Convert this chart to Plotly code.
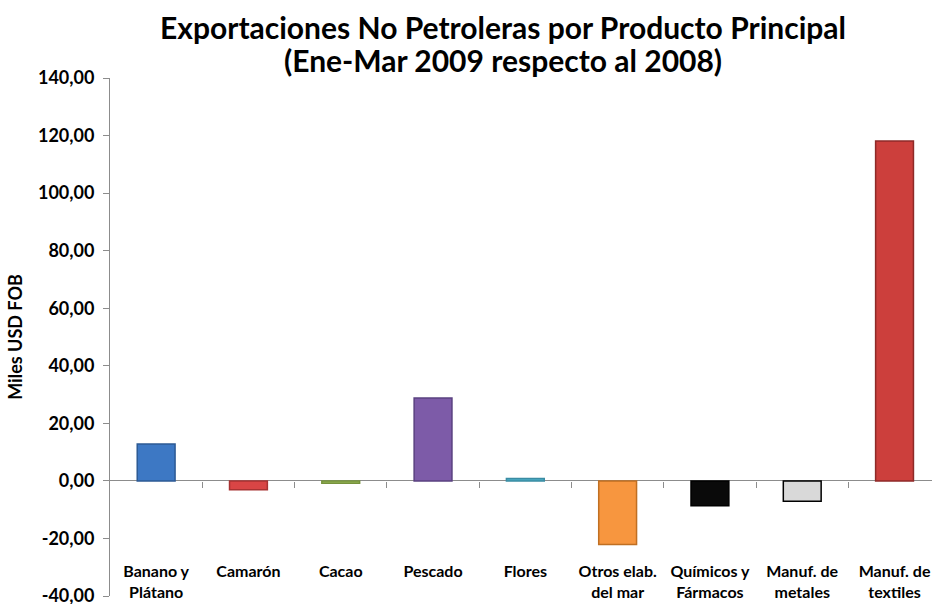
import plotly.graph_objects as go

# Exportaciones no petroleras, variación Ene-Mar 2009 vs 2008 (miles USD FOB)
categorias = ["Banano y<br>Plátano", "Camarón", "Cacao", "Pescado", "Flores",
              "Otros elab.<br>del mar", "Químicos y<br>Fármacos",
              "Manuf. de<br>metales", "Manuf. de<br>textiles"]
valores = [12.8, -3.1, -0.8, 28.8, 0.8, -22.1, -8.6, -7.1, 118.1]
colores = ["#3D78C4", "#D94545", "#9BBB59", "#7D5BA8", "#4BACC6",
           "#F7963F", "#0A0A0A", "#D9D9D9", "#CC3F3C"]
bordes = ["#2C5A94", "#A83232", "#76923C", "#5A4180", "#3A8CA3",
          "#C06F22", "#000000", "#000000", "#8E2A28"]
y_ticks = [-40, -20, 0, 20, 40, 60, 80, 100, 120, 140]
y_ticktext = [f"{v:,.2f}".replace(".", ",") for v in y_ticks]
titulo = ["Exportaciones No Petroleras por Producto Principal",
          "(Ene-Mar 2009 respecto al 2008)"]

FONT = "Lato"
x_range = [-0.5, 8.406]
y_range = [-40, 140]
M_TOP, M_BOT, H = 78, 8, 604
plot_h = H - M_TOP - M_BOT


def paper_y(px):
    """Pixel row from the top of the page -> paper fraction of the plot area."""
    return (H - M_BOT - px) / plot_h


fig = go.Figure()
fig.add_trace(go.Bar(
    x=list(range(len(categorias))),
    y=valores,
    width=0.41,
    marker=dict(color=colores, line=dict(color=bordes, width=1.5)),
    showlegend=False,
    hoverinfo="y",
))

# category boundary ticks drawn on an axis sitting at y = 0
fig.add_trace(go.Scatter(x=[0], y=[0], xaxis="x2", mode="markers",
                         marker=dict(opacity=0), showlegend=False,
                         hoverinfo="skip"))

# two-line chart title
for linea, py in zip(titulo, [27, 60]):
    fig.add_annotation(
        text=f"<b>{linea}</b>", xref="paper", yref="paper",
        x=(503 - 110) / (932 - 110), y=paper_y(py),
        xanchor="center", yanchor="middle", showarrow=False,
        font=dict(family=FONT, size=30, color="#000000"),
    )

fig.update_layout(
    width=932, height=H,
    margin=dict(l=110, r=0, t=M_TOP, b=M_BOT, autoexpand=False),
    paper_bgcolor="white", plot_bgcolor="white",
    font=dict(family=FONT, color="#000000"),
    xaxis=dict(
        range=x_range,
        tickmode="array",
        tickvals=list(range(len(categorias))),
        ticktext=[f"<b>{c}</b>" for c in categorias],
        tickfont=dict(family=FONT, size=16, color="#000000"),
        showline=False, showgrid=False, zeroline=False, ticks="",
        anchor="free", position=0.069, automargin=False,
    ),
    xaxis2=dict(
        overlaying="x", range=x_range, anchor="free",
        position=(0 - y_range[0]) / (y_range[1] - y_range[0]),
        tickmode="array",
        tickvals=[i + 0.5 for i in range(len(categorias) - 1)],
        ticks="outside", ticklen=6, tickcolor="#8C8C8C", tickwidth=1,
        showticklabels=False, showline=False, showgrid=False, zeroline=False,
        automargin=False,
    ),
    yaxis=dict(
        range=y_range,
        tickmode="array", tickvals=y_ticks,
        ticktext=[f"<b>{t}</b>" for t in y_ticktext],
        tickfont=dict(family=FONT, size=18, color="#000000"),
        ticks="outside", ticklen=6, tickcolor="#8C8C8C",
        ticklabelstandoff=5, ticklabeloverflow="allow",
        showline=True, linecolor="#8C8C8C", linewidth=1,
        showgrid=False, automargin=False,
        zeroline=True, zerolinecolor="#8C8C8C", zerolinewidth=1,
        title=dict(text="<b>Miles USD FOB</b>",
                   font=dict(family=FONT, size=18, color="#000000"),
                   standoff=10),
    ),
    bargap=0.59,
)

fig.write_html("out.html")
